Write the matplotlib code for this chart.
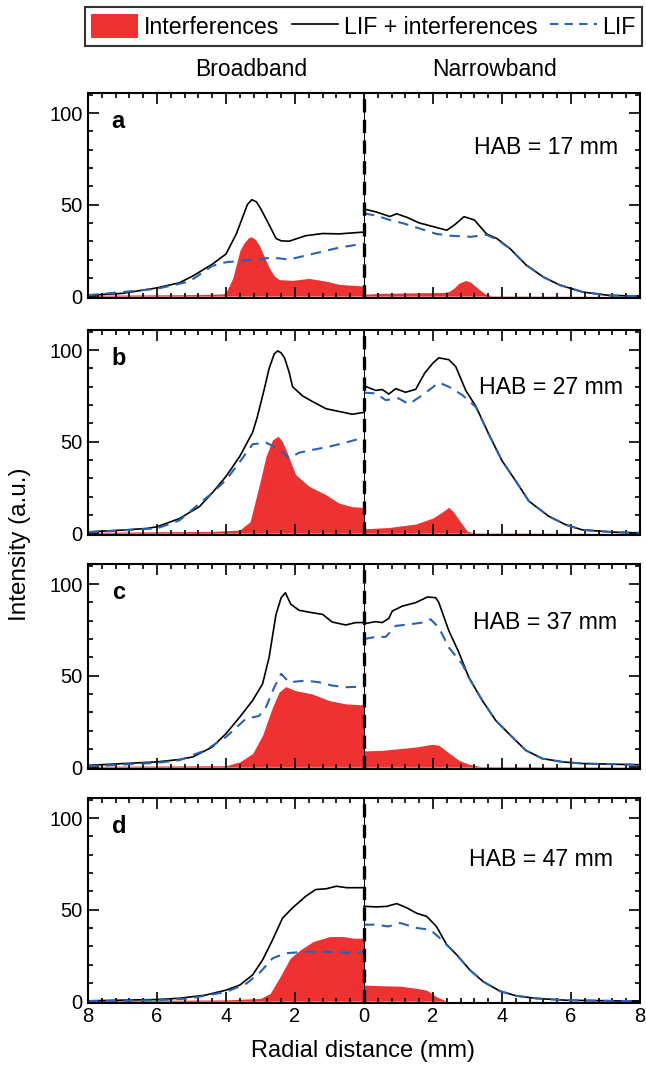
import numpy as np
from matplotlib import pyplot as plt
from matplotlib.patches import Patch
from matplotlib.lines import Line2D
from matplotlib.ticker import MultipleLocator, AutoMinorLocator, FuncFormatter

plt.rcParams['font.family'] = ['Liberation Sans', 'DejaVu Sans']
plt.rcParams['font.size'] = 16.7

# (radial distance mm, intensity a.u.) -- broadband = left half, narrowband = right half
a_bb_tot = [(8.0, 0.5), (7.0, 1.5), (6.0, 4.5), (5.35, 7.3), (4.96, 11), (4.4, 17.4), (4.0, 23), (3.7, 34),
            (3.5, 44), (3.38, 50), (3.25, 52.7), (3.12, 51.5), (3.0, 48), (2.75, 39), (2.55, 31.5), (2.4, 30.2),
            (2.17, 30), (1.69, 33), (1.2, 34.2), (0.72, 34), (0.0, 35)]
a_bb_lif = [(8.0, 0.5), (6.0, 4), (5.06, 8), (4.4, 16.5), (4.0, 18.5), (3.6, 19.2), (3.2, 20), (2.65, 21),
            (2.17, 20), (1.5, 23), (0.72, 26.5), (0.0, 28.7)]
a_bb_int = [(8.0, 0.5), (5.0, 0.8), (4.1, 1.2), (4.0, 2), (3.8, 10), (3.6, 24.7), (3.48, 29), (3.35, 31.8),
            (3.26, 32.4), (3.15, 31), (3.04, 28), (2.9, 22), (2.75, 15.6), (2.6, 11), (2.46, 9), (2.07, 8.6),
            (1.6, 9.7), (1.11, 8.2), (0.72, 6.4), (0.0, 5.5)]
a_nb_tot = [(0.0, 47.6), (0.35, 46), (0.75, 43.5), (0.95, 45), (1.25, 43), (1.6, 40), (2.0, 38), (2.4, 36),
            (2.63, 39), (2.9, 43.4), (3.2, 41.6), (3.55, 34), (3.85, 31.5), (4.23, 26), (4.7, 17), (5.2, 10.4),
            (5.68, 6), (6.35, 2.2), (7.1, 0.4), (8.0, 0)]
a_nb_lif = [(0.0, 45.2), (0.35, 44), (0.75, 41.6), (1.15, 39.7), (1.6, 37), (2.1, 34), (2.5, 33), (3.1, 32.4),
            (3.55, 33.5), (3.85, 31)]
a_nb_int = [(0.0, 1), (0.5, 1.5), (1.5, 1.8), (2.3, 2), (2.45, 2.4), (2.6, 4.2), (2.75, 7), (2.95, 8.6),
            (3.1, 7.5), (3.25, 5), (3.5, 1.3), (3.7, 0.2), (8.0, 0)]

b_bb_tot = [(8.0, 0.7), (7.0, 1.7), (6.3, 2.6), (6.0, 3.5), (5.35, 8), (4.77, 14.5), (4.4, 22), (4.0, 31),
            (3.6, 42), (3.23, 55), (3.1, 63), (2.9, 78), (2.75, 90), (2.6, 98), (2.5, 99.6), (2.4, 98.5),
            (2.3, 95.6), (2.17, 88), (2.07, 80), (1.78, 75), (1.5, 72), (1.1, 68), (0.72, 66.5), (0.34, 65),
            (0.0, 66)]
b_bb_lif = [(8.0, 0.5), (6.0, 2.6), (5.35, 7), (4.4, 22), (4.0, 29), (3.6, 39), (3.23, 48.6), (2.84, 49.5),
            (2.46, 46), (2.17, 41), (1.88, 44), (1.5, 45.5), (1.01, 47.3), (0.53, 49.5), (0.0, 52.3)]
b_bb_int = [(8.0, 0.5), (4.4, 1), (3.6, 1.7), (3.3, 6.3), (3.0, 29), (2.84, 42), (2.65, 51), (2.49, 53),
            (2.38, 50.5), (2.27, 46), (1.98, 32), (1.59, 25.6), (1.1, 21), (0.72, 16.4), (0.34, 14.5),
            (0.0, 14)]
b_nb_tot = [(0.0, 80.5), (0.34, 78), (0.53, 78.5), (0.72, 76), (0.92, 79), (1.2, 77), (1.5, 78.6), (1.76, 87.5),
            (2.0, 93), (2.17, 95.8), (2.46, 94.8), (2.66, 91), (2.95, 78), (3.24, 69.4), (3.62, 54), (4.0, 39.6),
            (4.4, 28.5), (4.78, 17.5), (5.36, 9.2), (5.85, 4.6), (6.33, 1.8), (7.3, 0.5), (8.0, 0.2)]
b_nb_lif = [(0.0, 76.8), (0.34, 76.4), (0.63, 72.7), (1.0, 73.7), (1.3, 70.5), (1.7, 75.5), (2.17, 82.3),
            (2.46, 80), (2.85, 75.5), (3.24, 69)]
b_nb_int = [(0.0, 2.4), (0.72, 3.1), (1.5, 5), (2.0, 8.3), (2.3, 12), (2.46, 14.2), (2.6, 11.5), (2.75, 7.4),
            (3.0, 1), (3.2, 0.2), (8.0, 0)]

c_bb_tot = [(8.0, 1), (6.0, 2.9), (5.35, 4.2), (4.96, 5.6), (4.4, 11), (4.0, 18.3), (3.6, 27.4), (3.23, 36.4),
            (2.94, 45.5), (2.75, 60), (2.55, 83.5), (2.4, 92.6), (2.28, 95.3), (2.12, 89), (1.88, 85.7),
            (1.5, 84.4), (1.2, 83.5), (0.92, 79.3), (0.53, 77.7), (0.24, 79), (0.0, 79)]
c_bb_lif = [(8.0, 0.5), (6.0, 2.4), (5.35, 3.8), (4.6, 9.2), (4.0, 16.5), (3.42, 26.5), (3.04, 28),
            (2.84, 32.8), (2.6, 43.7), (2.4, 51), (2.17, 46.4), (1.69, 47.3), (1.3, 46.4), (0.92, 44.6),
            (0.53, 43.7), (0.0, 44)]
c_bb_int = [(8.0, 0.5), (4.0, 0.8), (3.6, 2.9), (3.23, 7.4), (2.94, 17.4), (2.65, 32.8), (2.46, 41),
            (2.27, 44), (1.98, 41.8), (1.5, 40), (1.01, 36.4), (0.53, 34.6), (0.0, 34)]
c_nb_tot = [(0.0, 78.4), (0.34, 79.5), (0.53, 79), (0.72, 81.3), (0.82, 85.3), (1.11, 88), (1.5, 89.9),
            (1.84, 93), (2.08, 92.6), (2.17, 89.9), (2.46, 74.5), (2.75, 62.7), (3.04, 49), (3.43, 36.4),
            (3.82, 25.5), (4.2, 18.3), (4.69, 9.2), (5.17, 4.7), (5.75, 2.9), (6.33, 2), (8.0, 1.3)]
c_nb_lif = [(0.0, 70), (0.34, 71.2), (0.63, 71.2), (0.92, 77.2), (1.3, 78), (1.69, 79), (1.93, 80.8),
            (2.17, 76.3), (2.46, 65.4), (2.85, 56.3)]
c_nb_int = [(0.0, 8.9), (0.53, 9.2), (1.01, 10.1), (1.5, 11), (1.98, 12.5), (2.17, 12), (2.46, 7.8),
            (2.75, 3.8), (3.04, 1.6), (3.4, 0.3), (8.0, 0.2)]

d_bb_tot = [(8.0, 0.2), (6.0, 0.9), (5.35, 1.6), (4.6, 3.3), (4.0, 6), (3.6, 8.8), (3.23, 14.3), (2.94, 22.5),
            (2.65, 33.5), (2.36, 45.4), (2.07, 51), (1.69, 57.3), (1.4, 61), (1.1, 61.4), (0.8, 62.8),
            (0.5, 62), (0.0, 62)]
d_bb_lif = [(8.0, 0), (6.0, 0.5), (5.06, 1.5), (4.0, 5), (3.4, 9.7), (3.0, 16), (2.65, 23.4), (2.27, 26.2),
            (1.69, 27), (1.1, 27), (0.5, 26.5), (0.0, 26.7)]
d_bb_int = [(8.0, 0.3), (4.0, 0.7), (3.0, 1.5), (2.72, 4.2), (2.43, 13.4), (2.14, 23.4), (1.85, 28),
            (1.47, 32.6), (0.99, 35.3), (0.6, 35.3), (0.3, 34.4), (0.0, 34.4)]
d_nb_tot = [(0.0, 51.8), (0.37, 51.5), (0.66, 51.8), (0.95, 53.3), (1.24, 51), (1.53, 48), (1.82, 46.3),
            (2.1, 40.8), (2.4, 30.8), (2.69, 25.3), (3.07, 17), (3.46, 10.6), (3.94, 5.5), (4.42, 2.9),
            (5.0, 1.5), (5.87, 0.5), (8.0, 0)]
d_nb_lif = [(0.0, 41.8), (0.37, 41.8), (0.7, 40.8), (1.05, 42.7), (1.53, 40), (1.92, 39), (2.15, 35.3)]
d_nb_int = [(0.0, 8.8), (0.55, 8.4), (1.05, 8.2), (1.53, 7), (1.82, 6), (2.1, 2.4), (2.4, 0), (8.0, 0)]

panel_letters = ['a', 'b', 'c', 'd']
hab_labels = ['HAB = 17 mm', 'HAB = 27 mm', 'HAB = 37 mm', 'HAB = 47 mm']

panels = [
    (a_bb_tot, a_bb_lif, a_bb_int, a_nb_tot, a_nb_lif, a_nb_int),
    (b_bb_tot, b_bb_lif, b_bb_int, b_nb_tot, b_nb_lif, b_nb_int),
    (c_bb_tot, c_bb_lif, c_bb_int, c_nb_tot, c_nb_lif, c_nb_int),
    (d_bb_tot, d_bb_lif, d_bb_int, d_nb_tot, d_nb_lif, d_nb_int),
]

RED = '#ee3131'
BLUE = '#2a62b0'

fig = plt.figure(figsize=(6.46, 10.66), dpi=100)
bottoms = [0.7205, 0.4981, 0.2786, 0.0591]
hab_pos = [(0.960, 0.732), (0.969, 0.722), (0.958, 0.717), (0.951, 0.698)]


def xy(pts, sign):
    arr = np.array(pts, dtype=float)
    return sign * arr[:, 0], arr[:, 1]


for i, (bb_tot, bb_lif, bb_int, nb_tot, nb_lif, nb_int) in enumerate(panels):
    ax = fig.add_axes([0.1362, bottoms[i], 0.8545, 0.1923])

    # narrowband LIF merges with the total on the outer flank
    nb_lif_full = nb_lif + [p for p in nb_tot if p[0] > nb_lif[-1][0]]

    for sign, tot, lif, intf in [(-1, bb_tot, bb_lif, bb_int), (1, nb_tot, nb_lif_full, nb_int)]:
        x, y = xy(intf, sign)
        ax.fill_between(x, 0, y, color=RED, lw=0)
        x, y = xy(tot, sign)
        ax.plot(x, y, color='black', lw=1.2)
        x, y = xy(lif, sign)
        ax.plot(x, y, color=BLUE, lw=1.5, dashes=(5, 3.5))

    ax.axvline(0, color='black', lw=0.7)
    ax.axvline(0, color='black', lw=2.4, dashes=(4, 2.2))

    ax.set_xlim(-8, 8)
    ax.set_ylim(-1, 111)
    ax.xaxis.set_major_locator(MultipleLocator(2))
    ax.xaxis.set_minor_locator(AutoMinorLocator(5))
    ax.yaxis.set_major_locator(MultipleLocator(50))
    ax.yaxis.set_minor_locator(MultipleLocator(10))
    ax.xaxis.set_major_formatter(FuncFormatter(lambda v, p: f'{abs(v):.0f}'))
    ax.tick_params(which='both', direction='in', top=True, right=True, width=1.2, labelsize=14.5)
    ax.tick_params(which='major', length=8, pad=4)
    ax.tick_params(axis='x', which='major', pad=3)
    ax.tick_params(which='minor', length=3.8)
    for s in ax.spines.values():
        s.set_linewidth(1.5)
    if i < 3:
        ax.tick_params(labelbottom=False)

    ax.text(0.043, 0.863, panel_letters[i], transform=ax.transAxes, fontsize=17, fontweight='bold',
            ha='left', va='center')
    ax.text(hab_pos[i][0], hab_pos[i][1], hab_labels[i], transform=ax.transAxes, fontsize=16.7,
            ha='right', va='center')

fig.text(251 / 646, 1 - 70 / 1066, 'Broadband', ha='center', va='center', fontsize=16.5)
fig.text(495 / 646, 1 - 70 / 1066, 'Narrowband', ha='center', va='center', fontsize=16.5)
fig.text(20 / 646, 0.489, 'Intensity (a.u.)', rotation=90, ha='center', va='center', fontsize=17.5)
fig.text(363 / 646, 1 - 1051 / 1066, 'Radial distance (mm)', ha='center', va='center', fontsize=17)

handles = [Patch(facecolor=RED, edgecolor='none'),
           Line2D([], [], color='black', lw=1.2),
           Line2D([], [], color=BLUE, lw=1.5, dashes=(4, 3))]
leg = fig.legend(handles, ['Interferences', 'LIF + interferences', 'LIF'], loc='center',
                 bbox_to_anchor=(363.5 / 646, 1 - 26.5 / 1066), ncol=3, frameon=True, fancybox=False,
                 handlelength=2.0, handleheight=1.25, handletextpad=0.25, columnspacing=0.55,
                 borderpad=0.28, borderaxespad=0, fontsize=16.7)
leg.get_frame().set_edgecolor('black')
leg.get_frame().set_linewidth(1.5)

plt.savefig('out.png', dpi=100)
